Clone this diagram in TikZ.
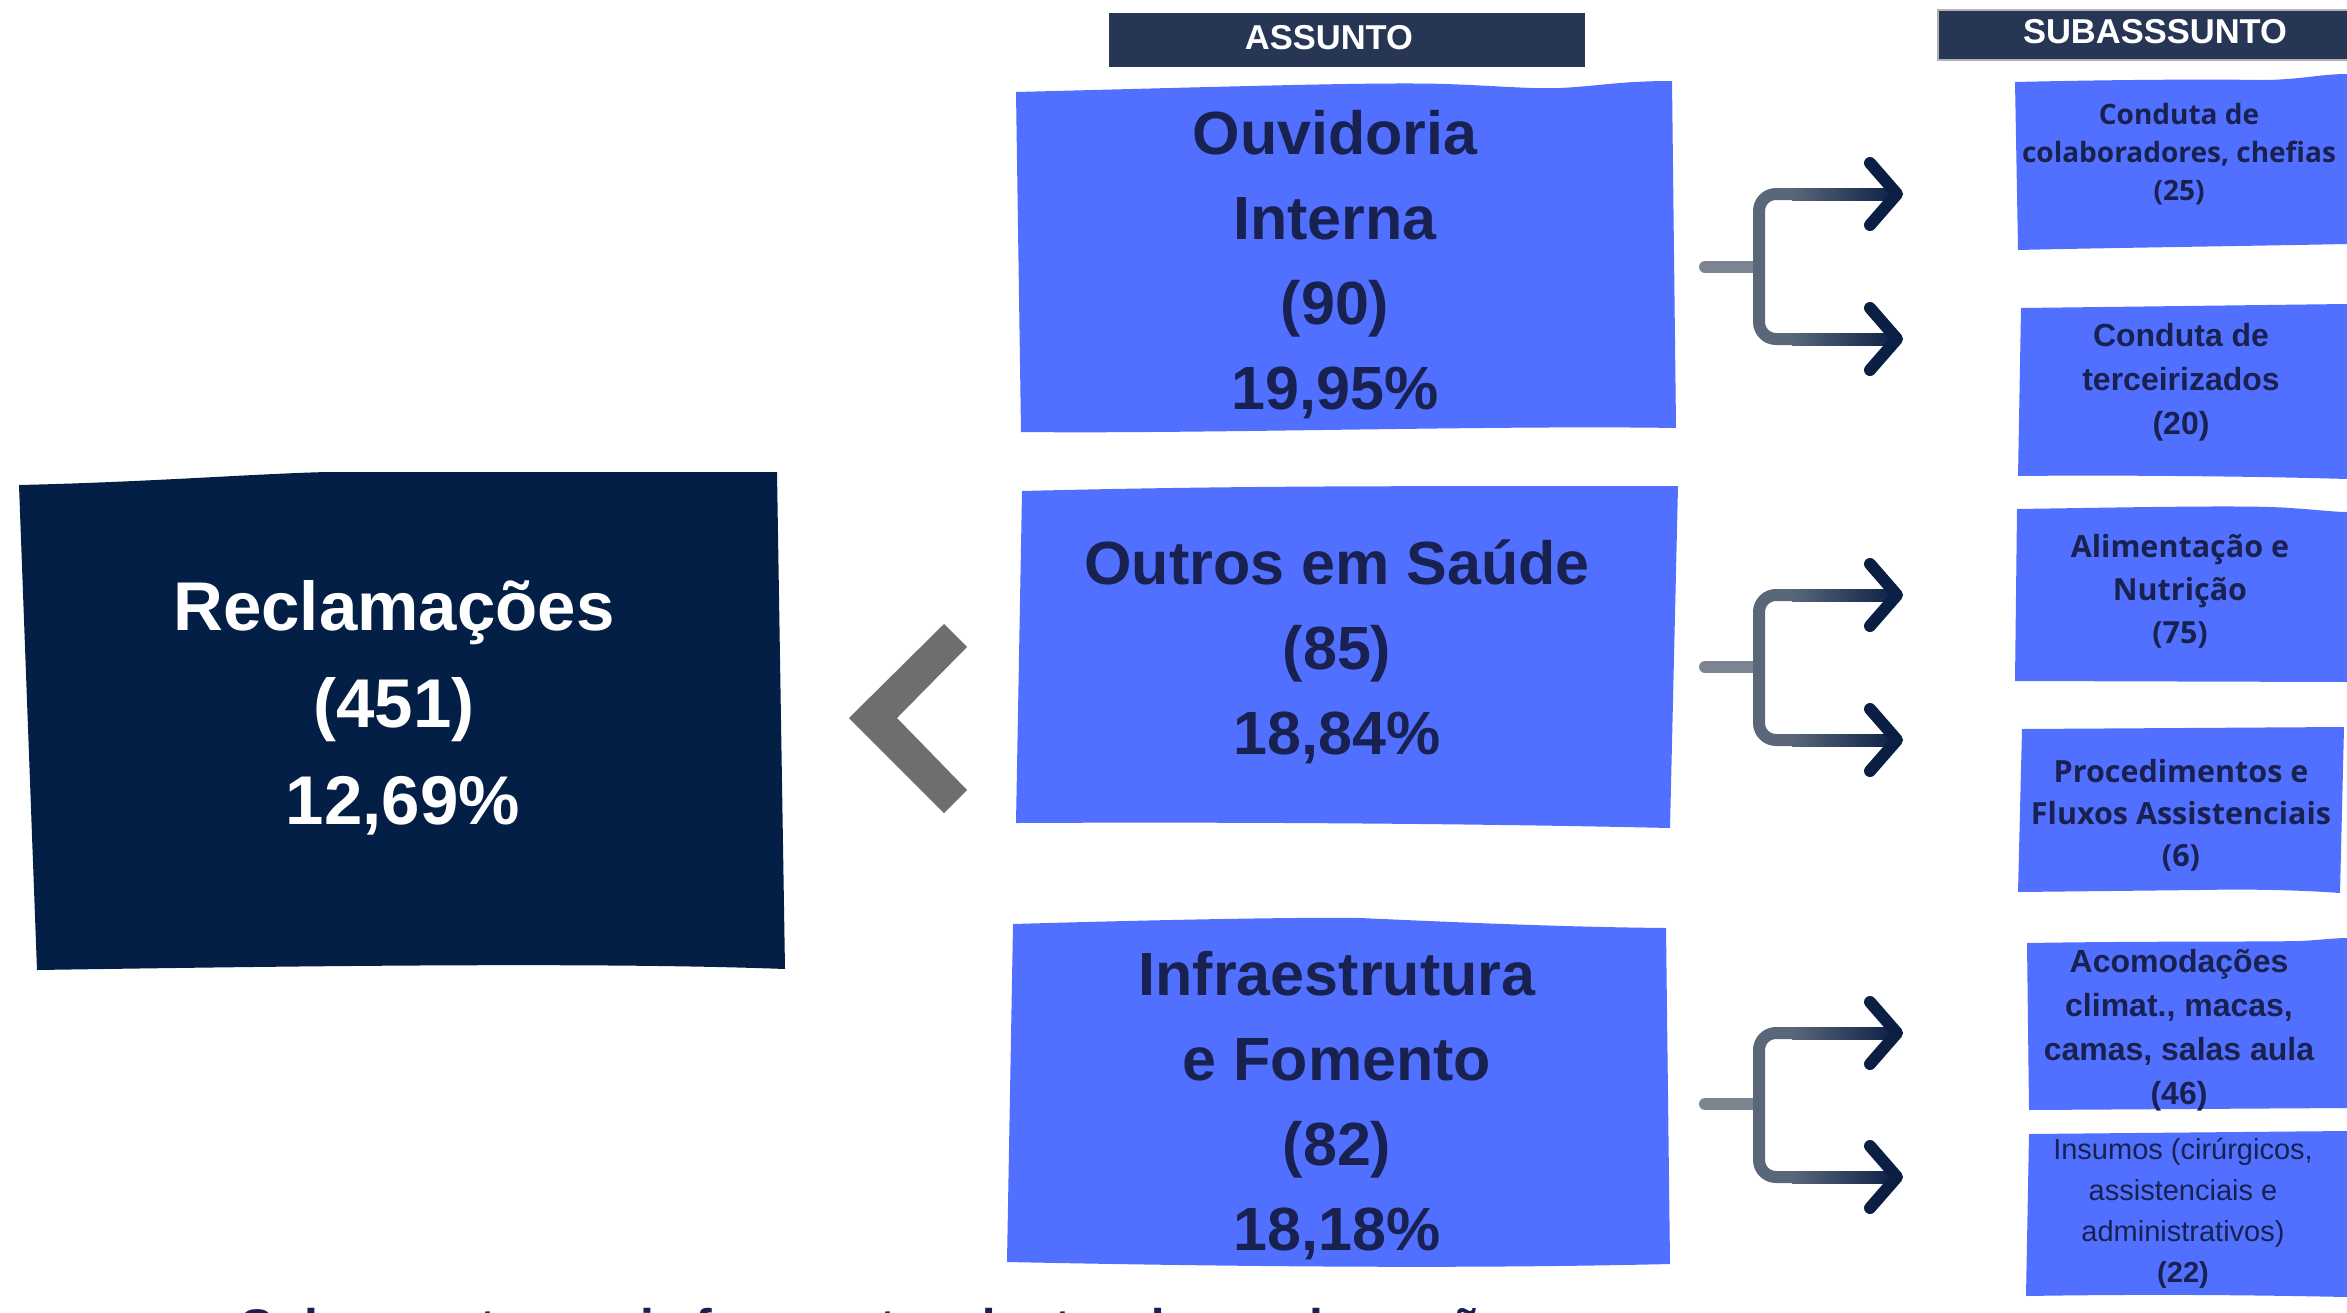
\documentclass[tikz,border=0pt]{standalone}
\usepackage{fontspec}
\setmainfont{Liberation Sans}
\newfontfamily\opensans{Open Sans}
\definecolor{panelblue}{HTML}{5170FF}
\definecolor{inkblue}{HTML}{18214F}
\definecolor{deepnavy}{HTML}{031F46}
\definecolor{headnavy}{HTML}{283655}
\definecolor{chevgray}{HTML}{6D6E70}
\definecolor{brlight}{HTML}{7B8490}
\definecolor{brmid}{HTML}{5A6779}
\definecolor{brdark}{HTML}{0B1F45}
\begin{document}
\begin{tikzpicture}[x=1pt,y=-1pt,
  panel/.style={fill=panelblue},
  headtext/.style={text=white,inner sep=0pt,font=\fontsize{34.5}{40}\selectfont\bfseries},
  bigtext/.style={text=inkblue,align=center,inner sep=0pt,font=\fontsize{61}{85}\selectfont\bfseries},
  subos/.style={text=inkblue,align=center,inner sep=0pt,font=\opensans\fontsize{30.5}{43}\selectfont\bfseries},
  subar/.style={text=inkblue,align=center,inner sep=0pt,font=\fontsize{32}{44}\selectfont\bfseries},
  branch/.style={line width=12pt,line cap=round,line join=round},
]
\useasboundingbox (0,0) rectangle (2347,1312);
\fill[white] (0,0) rectangle (2347,1312);

% column headers
\fill[headnavy] (1109,13) rectangle (1585,67);
\node[headtext] (hassunto) at (1329,38) {ASSUNTO};
\filldraw[fill=headnavy,draw=gray!60,line width=1.5pt] (1938,10) rectangle (2356,60);
\node[headtext] (hsub) at (2155,32) {SUBASSSUNTO};

% total
\fill[deepnavy] (19,485) .. controls (150,482) and (250,474) .. (327,472)
  -- (777,472) -- (785,969) .. controls (600,962) and (300,966) .. (37,970) -- cycle;
\node[text=white,align=center,inner sep=0pt,font=\fontsize{69}{97}\selectfont\bfseries]
  (recl) at (394,708) {Reclamações\\(451)\\\hspace*{18pt}12,69\%};

% chevron pointing to the total
\fill[chevgray] (944,624) -- (967,647) -- (897,718) -- (967,790) -- (944,813) -- (849,718) -- cycle;

% subject panels
\fill[panel] (1016,92) .. controls (1250,86) and (1380,82) .. (1446,84)
  .. controls (1500,86) and (1530,89) .. (1560,88) .. controls (1600,86) and (1620,81) .. (1672,81)
  -- (1676,428) .. controls (1500,425) and (1200,434) .. (1021,432) -- cycle;
\node[bigtext] (ouv) at (1335,265) {Ouvidoria\\Interna\\(90)\\19,95\%};

\fill[panel] (1022,491) .. controls (1300,484) and (1500,487) .. (1678,486)
  -- (1670,828) .. controls (1450,823) and (1200,822) .. (1016,823) -- cycle;
\node[bigtext] (out) at (1337,652) {Outros em Saúde\\(85)\\18,84\%};

\fill[panel] (1013,924) .. controls (1150,920) and (1300,917) .. (1360,918)
  .. controls (1450,922) and (1560,927) .. (1666,928)
  -- (1670,1264) .. controls (1500,1268) and (1300,1268) .. (1007,1262) -- cycle;
\node[bigtext] (inf) at (1337,1106) {Infraestrutura\\e Fomento\\(82)\\18,18\%};

% sub-subject panels
\fill[panel] (2015,82) .. controls (2100,80) and (2200,79) .. (2260,80)
  .. controls (2300,80) and (2320,74) .. (2347,74) -- (2347,244)
  .. controls (2250,246) and (2100,248) .. (2018,250) -- cycle;
\node[subos,font=\opensans\fontsize{28}{38}\selectfont\bfseries] (s1) at (2179,154)
  {Conduta de\\colaboradores, chefias\\(25)};

\fill[panel] (2021,308) -- (2347,304) -- (2347,479) .. controls (2250,476) and (2100,475) .. (2018,476) -- cycle;
\node[subar] (s2) at (2181,382) {Conduta de\\terceirizados\\(20)};

\fill[panel] (2017,509) .. controls (2150,507) and (2250,505) .. (2290,508)
  .. controls (2320,510) and (2335,512) .. (2347,512) -- (2347,682) -- (2015,681) -- cycle;
\node[subos] (s3) at (2180,591) {Alimentação e\\Nutrição\\(75)};

\fill[panel] (2022,729) -- (2344,727) -- (2340,893) .. controls (2300,890) and (2250,889) .. (2200,890)
  -- (2018,892) -- cycle;
\node[subos,font=\opensans\fontsize{30.5}{42}\selectfont\bfseries] (s4) at (2181,815)
  {Procedimentos e\\Fluxos Assistenciais\\(6)};

\fill[panel] (2027,943) .. controls (2150,941) and (2250,942) .. (2300,941)
  .. controls (2320,940) and (2335,938) .. (2347,938) -- (2347,1108) -- (2029,1110) -- cycle;
\node[subar] (s5) at (2179,1030) {Acomodações\\climat., macas,\\camas, salas aula\\(46)};

\fill[panel] (2029,1134) -- (2347,1131) -- (2347,1297) .. controls (2250,1295) and (2150,1294) .. (2026,1296) -- cycle;
\node[text=inkblue,align=center,inner sep=0pt,font=\fontsize{29}{41}\selectfont] (s6) at (2183,1213)
  {Insumos (cirúrgicos,\\assistenciais e\\administrativos)\\\textbf{(22)}};

% branching arrows from each subject to its two sub-subjects
\foreach \g/\ys/\yu/\yl in {1/267/194/339, 2/667/595/740, 3/1104/1033/1177}{
  \coordinate (st\g) at (1705,\ys);
  \coordinate (jn\g) at (1759,\ys);
  \coordinate (ua\g) at (1792,\yu);
  \coordinate (la\g) at (1792,\yl);
  \coordinate (ut\g) at (1897,\yu);
  \coordinate (lt\g) at (1897,\yl);
  \draw[branch,brlight] (st\g) -- (jn\g);
  \draw[branch,brmid,line cap=butt,rounded corners=17pt]
    (ua\g) -- (ua\g -| jn\g) -- (la\g -| jn\g) -- (la\g);
  \shade[left color=brmid,right color=brdark] ([yshift=-6pt]ua\g) rectangle ([yshift=6pt]ut\g);
  \shade[left color=brmid,right color=brdark] ([yshift=-6pt]la\g) rectangle ([yshift=6pt]lt\g);
  \draw[branch,brdark] (ut\g) ++(-27,-31) -- (ut\g) -- ++(-27,31);
  \draw[branch,brdark] (lt\g) ++(-27,-31) -- (lt\g) -- ++(-27,31);
}

% caption line running off the lower edge
\begin{scope}
  \clip (0,0) rectangle (2347,1312);
  \node[anchor=base west,inner sep=0pt,text=inkblue,font=\fontsize{50}{60}\selectfont\bfseries]
    (cap) at (240,1344) {Subassuntos mais frequentes dentro das reclamações};
\end{scope}
\end{tikzpicture}
\end{document}
